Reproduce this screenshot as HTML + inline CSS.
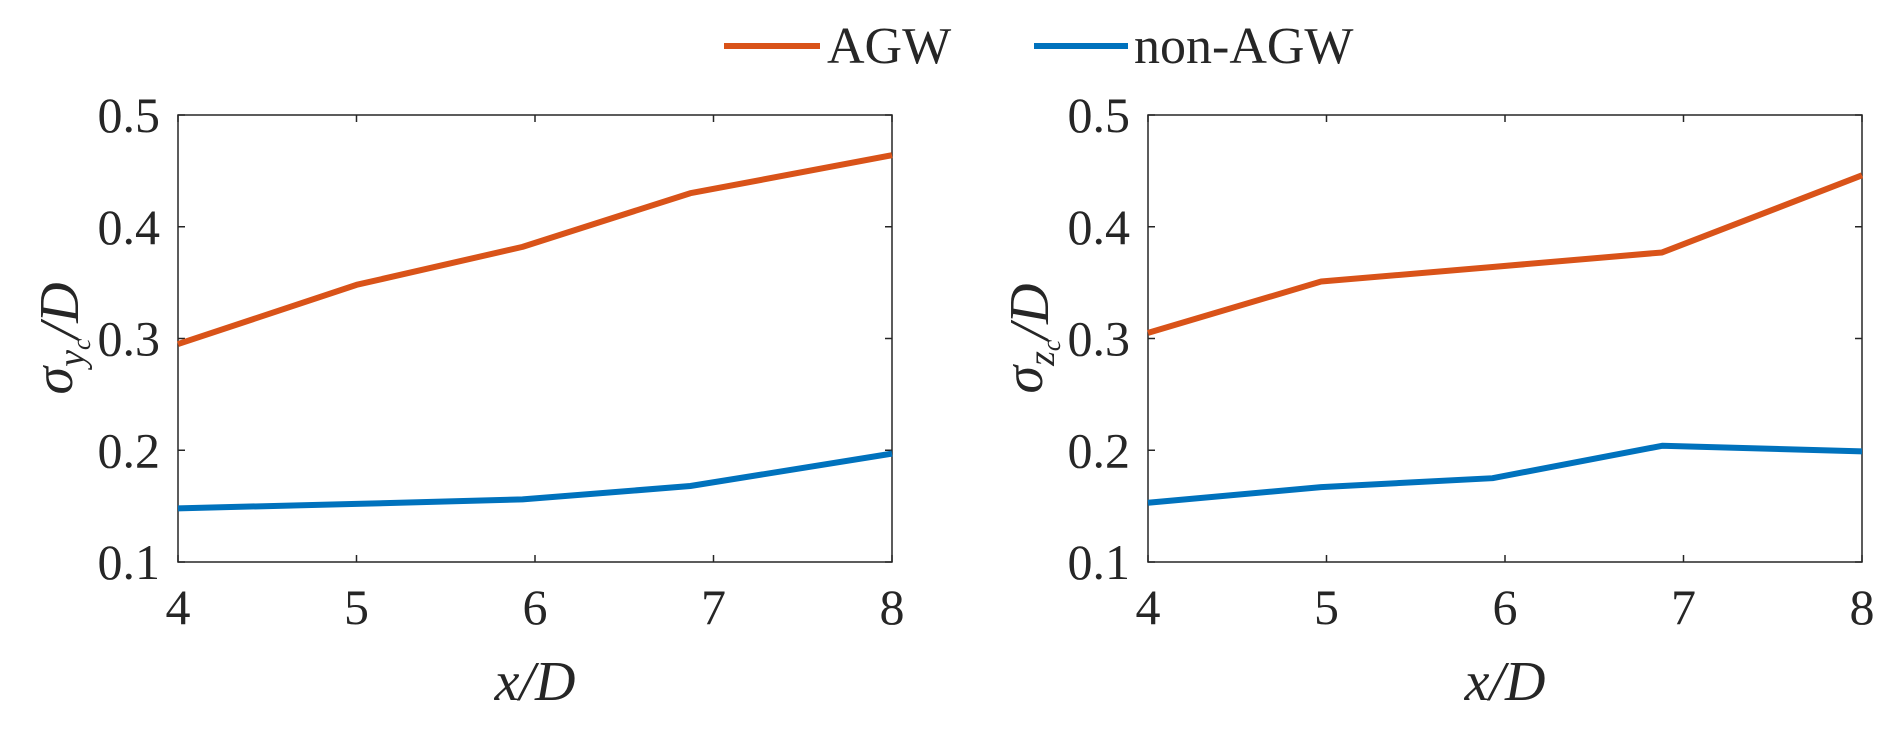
<!DOCTYPE html>
<html><head><meta charset="utf-8"><style>
body{margin:0;background:#fff;}
svg text{font-family:"Liberation Serif",serif;fill:#262626;}
</style></head><body>
<svg id="c" width="1892" height="729" xmlns="http://www.w3.org/2000/svg"></svg>
<script>
const xTicks=[4,5,6,7,8];
const yTicks=[0.1,0.2,0.3,0.4,0.5];
const yTickLabels=["0.1","0.2","0.3","0.4","0.5"];
const leftX=[4,5,5.93,6.87,8];
const leftAGW=[0.295,0.348,0.382,0.430,0.464];
const leftNon=[0.148,0.152,0.156,0.168,0.197];
const rightX=[4,4.97,5.93,6.88,8];
const rightAGW=[0.305,0.351,0.364,0.377,0.446];
const rightNon=[0.153,0.167,0.175,0.204,0.199];
const NS="http://www.w3.org/2000/svg";
const svg=document.getElementById('c');
function mk(t,a,p){const e=document.createElementNS(NS,t);for(const k in a)e.setAttribute(k,a[k]);(p||svg).appendChild(e);return e;}
const yTop=115,yBot=562;
function panel(x0,xs,agw,non,sub,name){
  const x1=x0+714;
  const g=mk('g',{});
  
  
  const sx=v=>x0+(v-4)/4*(x1-x0);
  const sy=v=>yBot-(v-0.1)/0.4*(yBot-yTop);
  const box=mk('rect',{x:x0,y:yTop,width:x1-x0,height:yBot-yTop,fill:'none',stroke:'#262626','stroke-width':1.5},g);
  
  
  xTicks.forEach(t=>{
    mk('line',{x1:sx(t),x2:sx(t),y1:yBot,y2:yBot-7,stroke:'#262626','stroke-width':1.5},g);
    mk('line',{x1:sx(t),x2:sx(t),y1:yTop,y2:yTop+7,stroke:'#262626','stroke-width':1.5},g);
    const tx=mk('text',{x:sx(t),y:yBot+62,'text-anchor':'middle','font-size':50},g);
    tx.textContent=t;
    
    
  });
  yTicks.forEach((t,i)=>{
    mk('line',{x1:x0,x2:x0+7,y1:sy(t),y2:sy(t),stroke:'#262626','stroke-width':1.5},g);
    mk('line',{x1:x1,x2:x1-7,y1:sy(t),y2:sy(t),stroke:'#262626','stroke-width':1.5},g);
    const tx=mk('text',{x:x0-18,y:sy(t)+17,'text-anchor':'end','font-size':50},g);
    tx.textContent=yTickLabels[i];
    
    
  });
  [[agw,'#D95319','line-agw'],[non,'#0072BD','line-non-agw']].forEach(([d,c,n])=>{
    const p=mk('polyline',{points:xs.map((x,i)=>sx(x)+','+sy(d[i])).join(' '),fill:'none',stroke:c,'stroke-width':6,'stroke-linejoin':'round'},g);
    
    
  });
  const xl=mk('text',{x:(x0+x1)/2,y:yBot+138,'text-anchor':'middle','font-size':56,'font-style':'italic'},g);
  xl.textContent='x/D';
  
  
  const yl=mk('text',{x:0,y:0,'text-anchor':'middle','font-size':56,'font-style':'italic',transform:`translate(${x0-106},${(yTop+yBot)/2}) rotate(-90)`},g);
  yl.innerHTML='σ<tspan font-size="38" dy="12">'+sub+'</tspan><tspan font-size="56" dy="-12">/D</tspan>';
  
  
}
panel(178,leftX,leftAGW,leftNon,'y<tspan font-size="26" dy="6">c</tspan><tspan dy="-6"></tspan>','left-panel');
panel(1148,rightX,rightAGW,rightNon,'z<tspan font-size="26" dy="6">c</tspan><tspan dy="-6"></tspan>','right-panel');
const lg=mk('g',{});


mk('line',{x1:724,x2:820,y1:46,y2:46,stroke:'#D95319','stroke-width':6},lg);
const t1=mk('text',{x:827,y:63,'font-size':52},lg);t1.textContent='AGW';


mk('line',{x1:1034,x2:1128,y1:46,y2:46,stroke:'#0072BD','stroke-width':6},lg);
const t2=mk('text',{x:1134,y:63,'font-size':52},lg);t2.textContent='non-AGW';


</script>
</body></html>
